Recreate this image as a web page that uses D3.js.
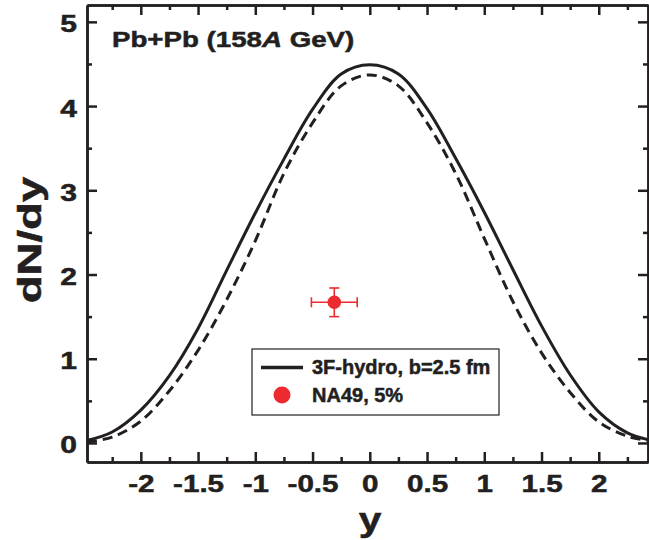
<!DOCTYPE html>
<html>
<head>
<meta charset="utf-8">
<script src="https://cdn.jsdelivr.net/npm/d3@7"></script>
<style>
  body { margin: 0; background: #fff; }
  text { font-family: "Liberation Sans", Arial, sans-serif; font-weight: bold; fill: #231f20; stroke: #231f20; stroke-width: 0.5px; }
</style>
</head>
<body>
<script>
// rapidity grid and the two hydro curves (solid / dashed)
var rap = [-2.47, -2.25, -2.0, -1.75, -1.5, -1.25, -1.0, -0.75, -0.5, -0.25, 0, 0.25, 0.5, 0.75, 1.0, 1.25, 1.5, 1.75, 2.0, 2.25, 2.43];
var solid = [0.03, 0.13, 0.39, 0.80, 1.36, 2.05, 2.73, 3.37, 3.96, 4.38, 4.49, 4.38, 3.97, 3.38, 2.74, 2.06, 1.39, 0.81, 0.37, 0.12, 0.04];
var dashed = [0.01, 0.07, 0.26, 0.62, 1.10, 1.70, 2.40, 3.20, 3.80, 4.24, 4.37, 4.24, 3.80, 3.20, 2.43, 1.68, 1.07, 0.60, 0.25, 0.08, 0.03];

// NA49 point
var na49 = [{ y: -0.31, v: 1.67, ex: 0.2, ev: 0.17 }];

var xTicks = [-2, -1.5, -1, -0.5, 0, 0.5, 1, 1.5, 2];
var xMinor = [-2.25, -1.75, -1.25, -0.75, -0.25, 0.25, 0.75, 1.25, 1.75, 2.25];
var yTicks = [0, 1, 2, 3, 4, 5];
var yMinor = [0.5, 1.5, 2.5, 3.5, 4.5];

var W = 649, H = 540;
var mLeft = 87, mRight = 648, mTop = 5, mBottom = 462;
var ink = "#231f20", red = "#ec2a30";

var svg = d3.select("body").append("svg").attr("width", W).attr("height", H);

var x = d3.scaleLinear().domain([-2.47, 2.43]).range([mLeft, mRight]);
var y = d3.scaleLinear().domain([-0.226, 5.2]).range([mBottom, mTop]);

// plain hyphen instead of unicode minus
var fmt = function(d) { return String(d); };

function styleAxis(g) {
  g.select(".domain").attr("stroke", ink).attr("stroke-width", 2.5);
  g.selectAll(".tick line").attr("stroke", ink).attr("stroke-width", 2.5);
}

// bottom
svg.append("g").attr("transform", "translate(0," + mBottom + ")")
  .call(d3.axisBottom(x).tickValues(xMinor).tickSize(-5).tickSizeOuter(0).tickFormat(""))
  .call(styleAxis);
var bx = svg.append("g").attr("transform", "translate(0," + mBottom + ")")
  .call(d3.axisBottom(x).tickValues(xTicks).tickSize(-10).tickSizeOuter(0).tickFormat(fmt))
  .call(styleAxis);
bx.selectAll(".tick text")
  .attr("y", 30).attr("dy", 0)
  .attr("font-size", 23.5).attr("font-family", null).attr("fill", ink)
  .attr("transform", "scale(1.26,1)");

// top
svg.append("g").attr("transform", "translate(0," + mTop + ")")
  .call(d3.axisTop(x).tickValues(xMinor).tickSize(-5).tickSizeOuter(0).tickFormat(""))
  .call(styleAxis);
svg.append("g").attr("transform", "translate(0," + mTop + ")")
  .call(d3.axisTop(x).tickValues(xTicks).tickSize(-10).tickSizeOuter(0).tickFormat(""))
  .call(styleAxis);

// left
svg.append("g").attr("transform", "translate(" + mLeft + ",0)")
  .call(d3.axisLeft(y).tickValues(yMinor).tickSize(-5).tickSizeOuter(0).tickFormat(""))
  .call(styleAxis);
var ly = svg.append("g").attr("transform", "translate(" + mLeft + ",0)")
  .call(d3.axisLeft(y).tickValues(yTicks).tickSize(-10).tickSizeOuter(0).tickFormat(fmt))
  .call(styleAxis);
ly.selectAll(".tick text")
  .attr("x", -10 / 1.28).attr("dy", 0).attr("y", 10)
  .attr("font-size", 23.5).attr("font-family", null).attr("fill", ink)
  .attr("transform", "scale(1.28,1)");

// right
svg.append("g").attr("transform", "translate(" + mRight + ",0)")
  .call(d3.axisRight(y).tickValues(yMinor).tickSize(-5).tickSizeOuter(0).tickFormat(""))
  .call(styleAxis);
svg.append("g").attr("transform", "translate(" + mRight + ",0)")
  .call(d3.axisRight(y).tickValues(yTicks).tickSize(-10).tickSizeOuter(0).tickFormat(""))
  .call(styleAxis);

// curves
var line = d3.line()
  .x(function(d, i) { return x(rap[i]); })
  .y(function(d) { return y(d); })
  .curve(d3.curveCatmullRom);

svg.append("path").datum(dashed)
  .attr("d", line).attr("fill", "none").attr("stroke", ink)
  .attr("stroke-width", 3).attr("stroke-dasharray", "10,6");
svg.append("path").datum(solid)
  .attr("d", line).attr("fill", "none").attr("stroke", ink)
  .attr("stroke-width", 3);

// NA49 point with error bars
var pt = svg.selectAll("g.pt").data(na49).enter().append("g").attr("class", "pt");
pt.append("line")
  .attr("x1", function(d) { return x(d.y - d.ex); }).attr("x2", function(d) { return x(d.y + d.ex); })
  .attr("y1", function(d) { return y(d.v); }).attr("y2", function(d) { return y(d.v); });
pt.append("line")
  .attr("x1", function(d) { return x(d.y); }).attr("x2", function(d) { return x(d.y); })
  .attr("y1", function(d) { return y(d.v - d.ev); }).attr("y2", function(d) { return y(d.v + d.ev); });
pt.append("line")
  .attr("x1", function(d) { return x(d.y - d.ex); }).attr("x2", function(d) { return x(d.y - d.ex); })
  .attr("y1", function(d) { return y(d.v) - 5; }).attr("y2", function(d) { return y(d.v) + 5; });
pt.append("line")
  .attr("x1", function(d) { return x(d.y + d.ex); }).attr("x2", function(d) { return x(d.y + d.ex); })
  .attr("y1", function(d) { return y(d.v) - 5; }).attr("y2", function(d) { return y(d.v) + 5; });
pt.append("line")
  .attr("x1", function(d) { return x(d.y) - 5; }).attr("x2", function(d) { return x(d.y) + 5; })
  .attr("y1", function(d) { return y(d.v - d.ev); }).attr("y2", function(d) { return y(d.v - d.ev); });
pt.append("line")
  .attr("x1", function(d) { return x(d.y) - 5; }).attr("x2", function(d) { return x(d.y) + 5; })
  .attr("y1", function(d) { return y(d.v + d.ev); }).attr("y2", function(d) { return y(d.v + d.ev); });
pt.selectAll("line").attr("stroke", red).attr("stroke-width", 1.6);
pt.append("circle")
  .attr("cx", function(d) { return x(d.y); }).attr("cy", function(d) { return y(d.v); })
  .attr("r", 6.8).attr("fill", red);

// title
var title = svg.append("text").attr("transform", "translate(112,47) scale(1.23,1)").attr("font-size", 22.5);
title.append("tspan").text("Pb+Pb (158");
title.append("tspan").attr("font-style", "italic").text("A");
title.append("tspan").text(" GeV)");

// axis titles
svg.append("text").attr("transform", "translate(370,531) scale(1.2,1)")
  .attr("text-anchor", "middle").attr("font-size", 34).text("y");
svg.append("text").attr("transform", "translate(41,240) rotate(-90) scale(1.38,1)")
  .attr("text-anchor", "middle").attr("font-size", 33).text("dN/dy");

// legend
var lg = svg.append("g");
lg.append("rect").attr("x", 252).attr("y", 349).attr("width", 247).attr("height", 66)
  .attr("fill", "#fff").attr("stroke", ink).attr("stroke-width", 1.2);
lg.append("line").attr("x1", 261).attr("x2", 303).attr("y1", 367.5).attr("y2", 367.5)
  .attr("stroke", ink).attr("stroke-width", 3.5);
lg.append("circle").attr("cx", 282).attr("cy", 395).attr("r", 8.5).attr("fill", red);
lg.append("text").attr("x", 312).attr("y", 374).attr("font-size", 20).text("3F-hydro, b=2.5 fm");
lg.append("text").attr("x", 312).attr("y", 402).attr("font-size", 20).text("NA49, 5%");
</script>
</body>
</html>
